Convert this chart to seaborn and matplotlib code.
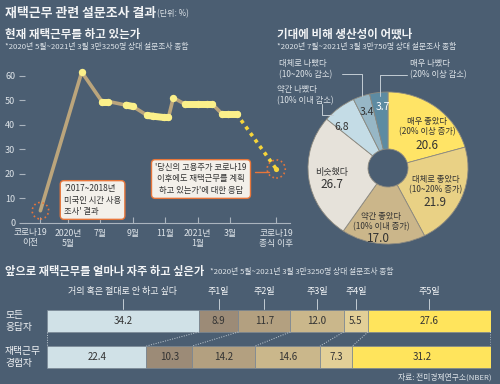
import matplotlib
matplotlib.use('Agg')
import matplotlib.pyplot as plt
from matplotlib.lines import Line2D
import numpy as np
import seaborn as sns

# ~~~~~~~  data  ~~~~~~~ #
# share currently working from home (%), x in month units (5 = May 2020, 15 = Mar 2021)
line_x = [3.3, 5.85, 7.1, 7.5, 8.6, 9.0, 9.9, 10.25, 10.9, 11.2, 11.5,
          12.2, 13.0, 13.6, 13.9, 14.5, 14.9, 15.4]
line_y = [5.0, 61.5, 49.5, 49.5, 48.0, 47.5, 43.8, 43.5, 43.0, 43.0, 51.0,
          48.5, 48.5, 48.5, 48.5, 44.5, 44.5, 44.5]
proj_x = [15.4, 17.85]
proj_y = [44.5, 22.0]
tick_pos = [3.3, 5, 7, 9, 11, 13, 15, 17.85]
tick_labels = ['코로나19\n이전', '2020년\n5월', '7월', '9월', '11월',
               '2021년\n1월', '3월', '코로나19\n종식 이후']

# productivity compared with expectations (%)
pie_names = ['매우 좋았다', '대체로 좋았다', '약간 좋았다', '비슷했다',
             '약간 나빴다', '대체로 나빴다', '매우 나빴다']
pie_values = [20.6, 21.9, 17.0, 26.7, 6.8, 3.4, 3.7]
pie_colors = ['#ffe466', '#e9d185', '#cbb68a', '#e6e2da',
              '#c4dce6', '#97b7c6', '#5d8ba2']

# how often people want to work from home (%)
freq_cats = ['거의 혹은 절대로 안 하고 싶다', '주1일', '주2일', '주3일', '주4일', '주5일']
all_resp = [34.2, 8.9, 11.7, 12.0, 5.5, 27.6]
wfh_exp = [22.4, 10.3, 14.2, 14.6, 7.3, 31.2]
groups = ['모든\n응답자', '재택근무\n경험자']
freq_colors = ['#d0e1e7', '#9c8b77', '#b3a080', '#cab78b', '#e2cf97', '#ffe45c']

BG = '#4b5e72'
TXT = '#f2f4f6'
SOFT = '#dde3e8'
ORANGE = '#e8763a'
GUIDE = '#c3cdd5'
DARK = '#333333'

sns.set_theme(style='white')
plt.rcParams['font.family'] = ['Noto Sans CJK KR', 'DejaVu Sans']
plt.rcParams['axes.unicode_minus'] = False

W, H = 500, 384
fig = plt.figure(figsize=(5, 3.84), dpi=100, facecolor=BG)


def box(l, t, r, b):
    return [l / W, 1 - b / H, (r - l) / W, (b - t) / H]


def ftext(x, y, s, **kw):
    kw.setdefault('color', TXT)
    kw.setdefault('va', 'center')
    return fig.text(x / W, 1 - y / H, s, **kw)


# ~~~~~~~  headers  ~~~~~~~ #
ftext(5, 13, '재택근무 관련 설문조사 결과', fontsize=9.3, fontweight='bold')
ftext(157, 14, '(단위: %)', fontsize=5.8, color=SOFT)
ftext(5, 34, '현재 재택근무를 하고 있는가', fontsize=8.3, fontweight='bold')
ftext(5, 47, '*2020년 5월~2021년 3월 3만3250명 상대 설문조사 종합', fontsize=5.6, color=SOFT)
ftext(277, 34, '기대에 비해 생산성이 어땠나', fontsize=8.3, fontweight='bold')
ftext(277, 47, '*2020년 7월~2021년 3월 3만750명 상대 설문조사 종합', fontsize=5.6, color=SOFT)
ftext(5, 271, '앞으로 재택근무를 얼마나 자주 하고 싶은가', fontsize=8.1, fontweight='bold')
ftext(210, 272, '*2020년 5월~2021년 3월 3만3250명 상대 설문조사 종합', fontsize=5.6, color=SOFT)
ftext(492, 377, '자료: 전미경제연구소(NBER)', fontsize=5.6, color=SOFT, ha='right')

# ~~~~~~~  line chart  ~~~~~~~ #
ax = fig.add_axes(box(25, 61, 290, 223))
ax.set_facecolor('none')
sns.lineplot(x=line_x, y=line_y, ax=ax, color='#bba57c', lw=2.6, sort=False, zorder=2)
for i in range(1, len(line_x) - 1):
    if abs(line_y[i + 1] - line_y[i]) < 1.5:
        ax.plot(line_x[i:i + 2], line_y[i:i + 2], color='#fbf08a', lw=5,
                solid_capstyle='round', zorder=3)
ax.scatter(line_x[1:], line_y[1:], s=28, color='#fbf08a', lw=0, zorder=4)
ax.plot(proj_x, proj_y, color='#f7d53a', lw=2.6, ls=(0, (1, 1.2)), zorder=3)
ax.scatter(proj_x[-1:], proj_y[-1:], s=14, color='#f7d53a', lw=0, zorder=4)
ax.scatter([line_x[0]], [line_y[0]], s=140, facecolors='none', edgecolors=ORANGE,
           linestyles=':', lw=1.2, zorder=5)
ax.scatter(proj_x[-1:], proj_y[-1:], s=170, facecolors='none', edgecolors=ORANGE,
           linestyles=':', lw=1.2, zorder=5)

ax.set_xlim(2.35, 18.7)
ax.set_ylim(0, 66)
ax.set_yticks(range(0, 61, 10))
ax.set_xticks(tick_pos)
# the first label sits a little left of its tick, as in the original
ax.set_xticklabels([''] + tick_labels[1:], fontsize=6.3, color=SOFT, linespacing=1.15)
ax.annotate(tick_labels[0], xy=(tick_pos[0], 0), xycoords=('data', 'axes fraction'),
            xytext=(-10, -5), textcoords='offset pixels', ha='center', va='top',
            fontsize=6.3, color=SOFT, linespacing=1.15, annotation_clip=False)
ax.tick_params(axis='y', labelsize=6.5, labelcolor=SOFT, length=4, width=0.8,
               color='#aab4be', direction='out', pad=3, left=True)
ax.tick_params(axis='x', length=4, width=0.8, color='#aab4be', direction='in',
               pad=4, bottom=True)
for s in ['top', 'right', 'left']:
    ax.spines[s].set_visible(False)
ax.spines['bottom'].set_color('#aab4be')
ax.spines['bottom'].set_linewidth(0.8)
ax.grid(False)

# annotation boxes
ftext(64, 200, "'2017~2018년\n미국인 시간 사용\n조사' 결과", fontsize=6, color=DARK,
      ha='left', linespacing=1.3,
      bbox=dict(boxstyle='round,pad=0.45', fc='#f3f0ea', ec=ORANGE, lw=1))
ftext(201, 179, "'당신의 고용주가 코로나19\n이후에도 재택근무를 계획\n하고 있는가'에 대한 응답",
      fontsize=6, color=DARK, ha='center', linespacing=1.3,
      bbox=dict(boxstyle='round,pad=0.45', fc='#f3f0ea', ec=ORANGE, lw=1))
fig.add_artist(Line2D([255 / W, 269 / W], [1 - 172 / H, 1 - 172 / H], color=ORANGE, lw=1))

# ~~~~~~~  donut  ~~~~~~~ #
pax = fig.add_axes(box(308, 92, 468, 244))
pax.pie(pie_values, colors=pie_colors, startangle=90, counterclock=False,
        wedgeprops=dict(width=0.75, edgecolor='#8d8a80', linewidth=0.6))
pax.set_xlim(-1, 1)
pax.set_ylim(-1, 1)
pax.set_aspect('auto')

ftext(427, 127, '매우 좋았다\n(20% 이상 증가)', fontsize=6, color=DARK, ha='center', linespacing=1.15)
ftext(427, 145, '20.6', fontsize=8.5, color=DARK, ha='center')
ftext(436, 185, '대체로 좋았다\n(10~20% 증가)', fontsize=6, color=DARK, ha='center', linespacing=1.15)
ftext(435, 203, '21.9', fontsize=8.5, color=DARK, ha='center')
ftext(381, 222, '약간 좋았다\n(10% 이내 증가)', fontsize=6, color=DARK, ha='center', linespacing=1.15)
ftext(378, 239, '17.0', fontsize=8.5, color=DARK, ha='center')
ftext(332, 172, '비슷했다', fontsize=6.5, color=DARK, ha='center')
ftext(332, 184, '26.7', fontsize=8.5, color=DARK, ha='center')
ftext(342, 127, '6.8', fontsize=7.5, color=DARK, ha='center')
ftext(367, 112, '3.4', fontsize=7.5, color=DARK, ha='center')
ftext(383, 107, '3.7', fontsize=7.5, color='white', ha='center')

ftext(279, 69, '대체로 나빴다\n(10~20% 감소)', fontsize=6, color=SOFT, ha='left', linespacing=1.2)
ftext(410, 69, '매우 나빴다\n(20% 이상 감소)', fontsize=6, color=SOFT, ha='left', linespacing=1.2)
ftext(277, 95, '약간 나빴다\n(10% 이내 감소)', fontsize=6, color=SOFT, ha='left', linespacing=1.2)
for xs, ys in [([342, 362, 362], [74, 74, 96]),
               ([407, 380, 380], [75, 75, 96]),
               ([322, 322, 333], [104, 115, 115])]:
    fig.add_artist(Line2D([x / W for x in xs], [1 - y / H for y in ys], color=GUIDE, lw=0.7))

# ~~~~~~~  stacked bars  ~~~~~~~ #
bax = fig.add_axes(box(47, 300, 491, 378))
bax.set_facecolor('none')
rows = [all_resp, wfh_exp]
cum = np.zeros((2, len(freq_cats) + 1))
for r, vals in enumerate(rows):
    cum[r, 1:] = np.cumsum(vals)
bar_h = 0.61
for j, cat in enumerate(freq_cats):
    widths = [all_resp[j], wfh_exp[j]]
    lefts = [cum[0, j], cum[1, j]]
    bax.barh([0, 1], widths, left=lefts, height=bar_h, color=freq_colors[j],
             edgecolor='#7a8794', lw=0.5)
    for r in range(2):
        bax.text(lefts[r] + widths[r] / 2, r, f'{widths[r]:.1f}', ha='center',
                 va='center', fontsize=7, color=DARK)
    mid = lefts[0] + widths[0] / 2
    bax.text(mid, -0.81, cat, ha='center', va='center', fontsize=6.5, color=TXT, clip_on=False)
    bax.plot([mid, mid], [-0.6, -bar_h / 2 - 0.02], color=GUIDE, lw=0.7, clip_on=False)
for j in range(len(freq_cats) + 1):
    bax.plot([cum[0, j], cum[1, j]], [bar_h / 2, 1 - bar_h / 2], color=GUIDE,
             lw=0.7, ls=(0, (1, 1.5)))
bax.set_xlim(0, 100)
bax.set_ylim(1.583, -0.583)
bax.axis('off')
for r, g in enumerate(groups):
    ftext(5, 321 + 36 * r, g, fontsize=7, color=TXT, ha='left', linespacing=1.15)

fig.savefig('out.png', dpi=100, facecolor=BG)
